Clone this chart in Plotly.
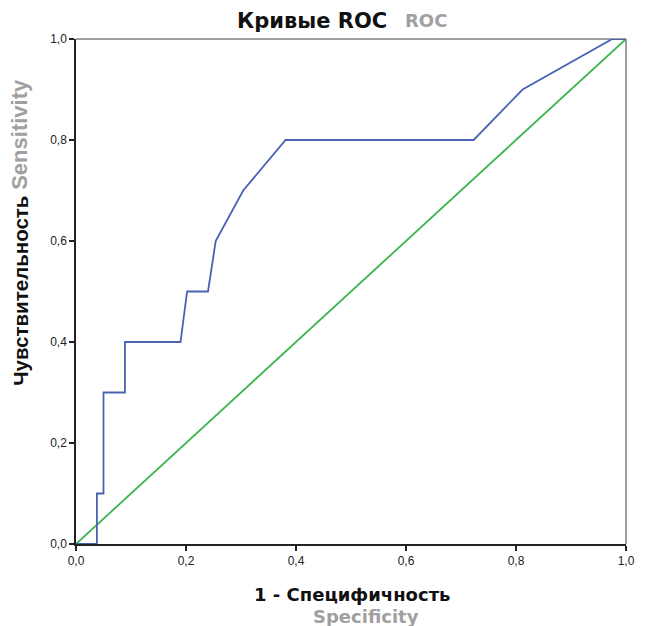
import plotly.graph_objects as go

# ROC curve points (1 - specificity, sensitivity)
fpr = [0.0, 0.038, 0.038, 0.050, 0.050, 0.089, 0.089, 0.190, 0.202, 0.240, 0.254, 0.304, 0.381, 0.723, 0.812, 0.975, 1.0]
tpr = [0.0, 0.0, 0.1, 0.1, 0.3, 0.3, 0.4, 0.4, 0.5, 0.5, 0.6, 0.7, 0.8, 0.8, 0.9, 1.0, 1.0]
ref_x = [0.0, 1.0]
ref_y = [0.0, 1.0]
tick_vals = [0.0, 0.2, 0.4, 0.6, 0.8, 1.0]
tick_text = ["0,0", "0,2", "0,4", "0,6", "0,8", "1,0"]

W, H = 647, 626
L, R, T, B = 76, 13, 39, 82
pw, ph = W - L - R, H - T - B

def px(x):
    return (x - L) / pw

def py(y):
    return (H - B - y) / ph

fig = go.Figure()
fig.add_trace(go.Scatter(x=ref_x, y=ref_y, mode="lines",
                         line=dict(color="#3cb44b", width=1.8), hoverinfo="skip"))
fig.add_trace(go.Scatter(x=fpr, y=tpr, mode="lines",
                         line=dict(color="#4a62b4", width=1.8), hoverinfo="skip"))

axis_common = dict(range=[0, 1], tickvals=tick_vals, ticktext=tick_text,
                   showgrid=False, zeroline=False, showline=True, linecolor="#222",
                   linewidth=1.5, mirror=False, ticks="outside", ticklen=5,
                   tickcolor="#222", tickwidth=1.5,
                   tickfont=dict(family="Liberation Sans, Arial", size=12, color="#222"))

fig.update_layout(
    width=W, height=H,
    margin=dict(l=L, r=R, t=T, b=B),
    paper_bgcolor="white", plot_bgcolor="white",
    showlegend=False,
    xaxis=dict(**axis_common),
    yaxis=dict(**axis_common),
    font=dict(family="Liberation Sans, Arial"),
)

# gray frame on top and right
frame = dict(color="#808080", width=1.5)
fig.add_shape(type="line", xref="paper", yref="paper", x0=0, x1=1, y0=1, y1=1,
              line=frame, layer="below")
fig.add_shape(type="line", xref="paper", yref="paper", x0=1, x1=1, y0=0, y1=1,
              line=frame, layer="below")

wide_font = "DejaVu Sans"
narrow_font = "Liberation Sans, Arial"

def label(text, cx, cy, family, size, color, angle=0):
    return dict(text="<b>%s</b>" % text, x=px(cx), y=py(cy), xref="paper", yref="paper",
                xanchor="center", yanchor="middle", showarrow=False, textangle=angle,
                font=dict(family=family, size=size, color=color))

ann = [
    label("Кривые ROC", 315, 21, wide_font, 21, "#111"),
    label("ROC", 431, 21, wide_font, 18, "#a0a0a0"),
    label("Чувствительность", 19, 291, narrow_font, 20.5, "#111", -90),
    label("Sensitivity", 19, 134, narrow_font, 22, "#a0a0a0", -90),
    label("1 - Специфичность", 356, 594, wide_font, 18, "#111"),
    label("Specificity", 370, 616, wide_font, 18, "#a0a0a0"),
]
fig.update_layout(annotations=ann)

fig.write_html("out.html")
